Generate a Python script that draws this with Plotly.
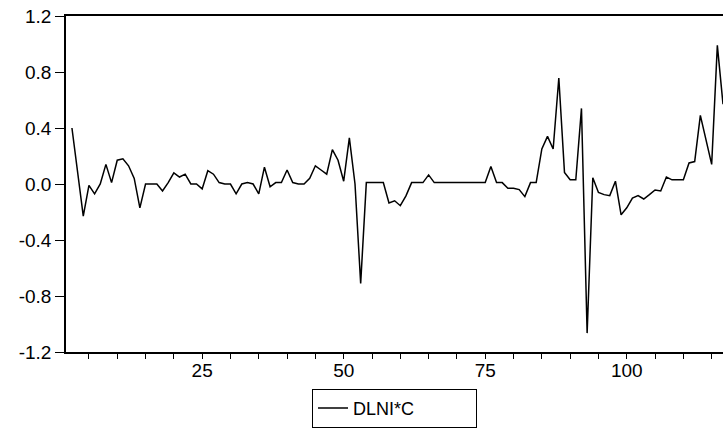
import plotly.graph_objects as go

# observation index (series starts at obs 2, first difference)
obs = list(range(2, 118))

# DLNI*C values
dlnic = [
    0.40, 0.09, -0.23, -0.01, -0.07, 0.00, 0.14, 0.01, 0.17, 0.18,      # 2-11
    0.13, 0.04, -0.17, 0.00, 0.00, 0.00, -0.05, 0.01, 0.08, 0.05,       # 12-21
    0.07, 0.00, 0.00, -0.035, 0.095, 0.07, 0.01, 0.00, 0.00, -0.07,     # 22-31
    0.00, 0.01, 0.00, -0.07, 0.12, -0.02, 0.01, 0.01, 0.10, 0.01,       # 32-41
    0.00, 0.00, 0.04, 0.13, 0.10, 0.07, 0.245, 0.17, 0.02, 0.33,        # 42-51
    0.00, -0.71, 0.01, 0.01, 0.01, 0.01, -0.135, -0.12, -0.155, -0.085, # 52-61
    0.01, 0.01, 0.01, 0.065, 0.01, 0.01, 0.01, 0.01, 0.01, 0.01,        # 62-71
    0.01, 0.01, 0.01, 0.01, 0.125, 0.01, 0.01, -0.03, -0.03, -0.04,     # 72-81
    -0.09, 0.01, 0.01, 0.25, 0.34, 0.25, 0.757, 0.083, 0.03, 0.03,      # 82-91
    0.54, -1.065, 0.045, -0.06, -0.076, -0.083, 0.02, -0.22, -0.17, -0.10,  # 92-101
    -0.083, -0.107, -0.076, -0.043, -0.05, 0.05, 0.03, 0.03, 0.03, 0.15,    # 102-111
    0.16, 0.49, 0.32, 0.14, 0.99, 0.57,                                  # 112-117
]

series_name = "DLNI*C"
x_tick_vals = [25, 50, 75, 100]
y_tick_vals = [-1.2, -0.8, -0.4, 0.0, 0.4, 0.8, 1.2]
y_tick_text = ["-1.2", "-0.8", "-0.4", "0.0", "0.4", "0.8", "1.2"]

FONT = "Liberation Sans, Arial, sans-serif"

fig = go.Figure()
fig.add_trace(go.Scatter(
    x=obs, y=dlnic, mode="lines", name=series_name,
    line=dict(color="black", width=1.5),
))

fig.update_layout(
    width=723, height=432,
    margin=dict(l=66, r=0, t=16, b=80, autoexpand=False),
    paper_bgcolor="white", plot_bgcolor="white",
    font=dict(family=FONT, size=19, color="black"),
    showlegend=True,
    legend=dict(
        orientation="h", x=0.5, xanchor="center",
        yref="container", y=0.01, yanchor="bottom",
        bordercolor="black", borderwidth=1, bgcolor="white",
        font=dict(family=FONT, size=18, color="black"),
        entrywidth=118,
    ),
    xaxis=dict(
        range=[0.95, 117.0], showgrid=False, zeroline=False, automargin=False,
        showline=True, mirror=True, linecolor="black", linewidth=1.5,
        tickmode="array", tickvals=x_tick_vals, ticks="outside", ticklen=5,
        tickcolor="black", tickwidth=1, ticklabelstandoff=-5,
        minor=dict(dtick=5, tick0=0, ticks="outside", ticklen=5,
                   tickcolor="black", tickwidth=1, showgrid=False),
        tickfont=dict(family=FONT, size=19),
    ),
    yaxis=dict(
        range=[-1.2, 1.2], showgrid=False, zeroline=False, automargin=False,
        showline=True, linecolor="black", linewidth=1.5,
        tickmode="array", tickvals=y_tick_vals, ticktext=y_tick_text,
        ticks="outside", ticklen=9, tickcolor="black", tickwidth=1,
        tickfont=dict(family=FONT, size=19),
    ),
)

fig.write_html(
    "out.html",
    config={"displayModeBar": False},
    post_script="document.body.style.margin='0px';document.body.style.overflow='hidden';",
)
